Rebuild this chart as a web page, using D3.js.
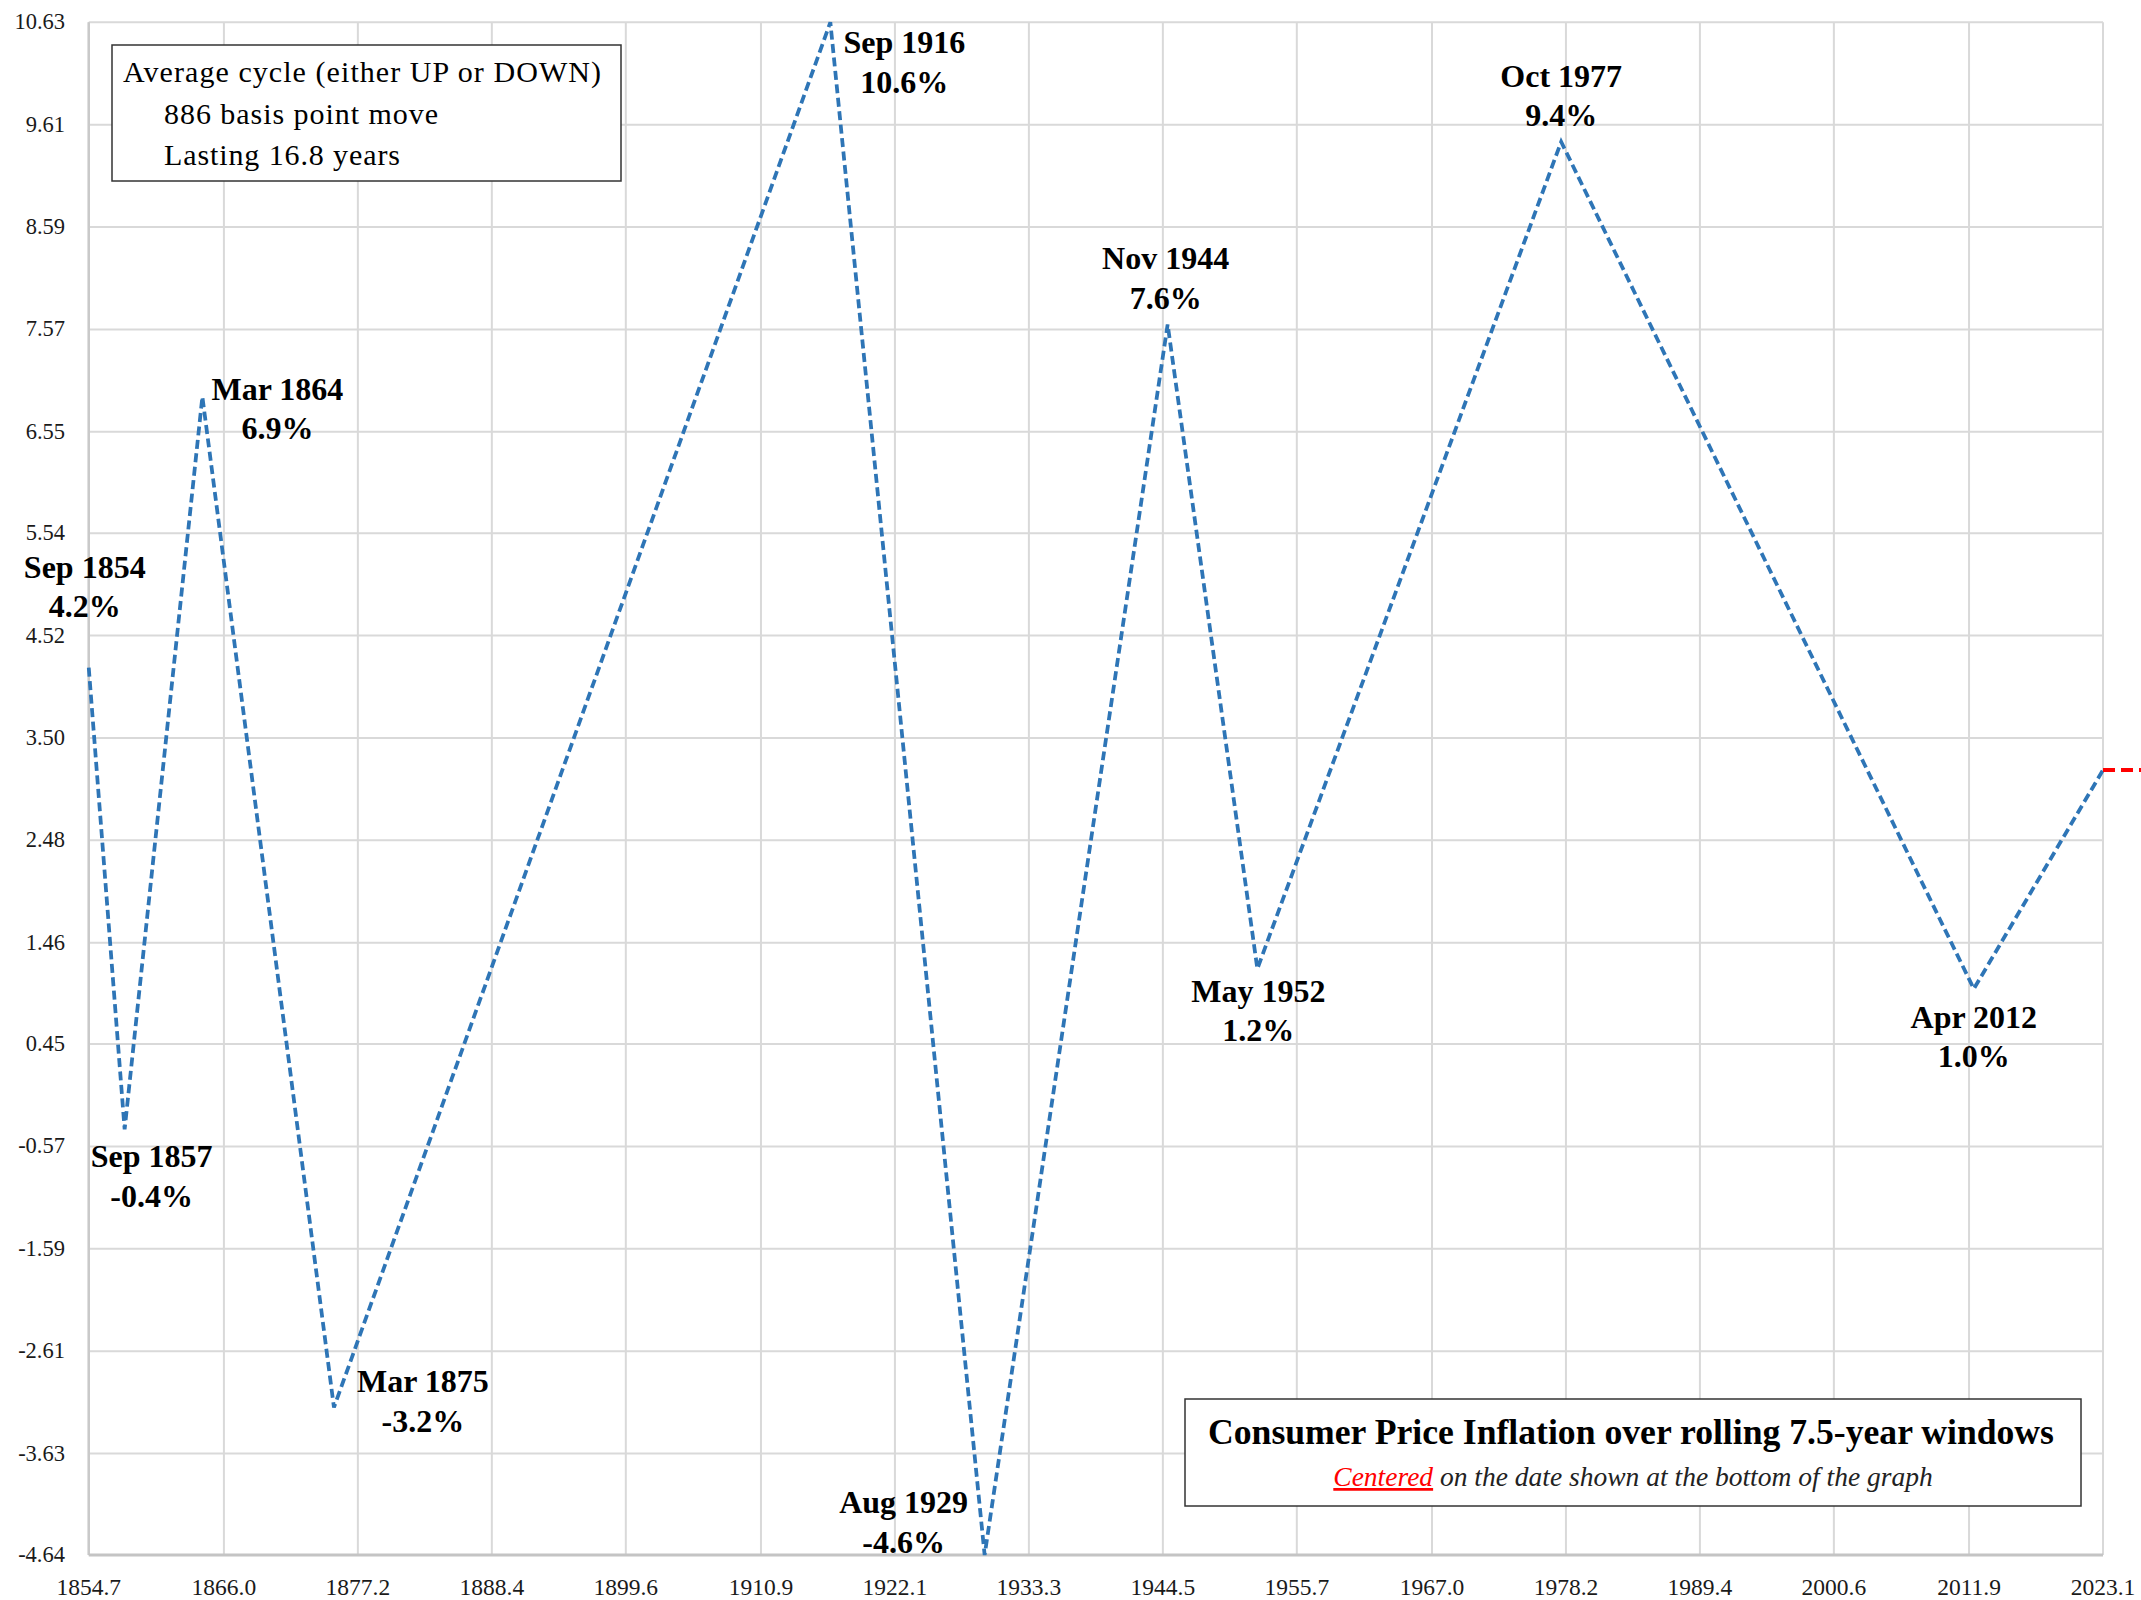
<!DOCTYPE html>
<html>
<head>
<meta charset="utf-8">
<script src="https://cdn.jsdelivr.net/npm/d3@7"></script>
<style>
  html, body { margin: 0; padding: 0; background: #ffffff; }
  svg { display: block; }
  text { font-family: "Liberation Serif", "Times New Roman", serif; }
</style>
</head>
<body>
<script>
// Axis tick labels
const xTickLabels = ["1854.7","1866.0","1877.2","1888.4","1899.6","1910.9","1922.1","1933.3",
                     "1944.5","1955.7","1967.0","1978.2","1989.4","2000.6","2011.9","2023.1"];
const yTickLabels = ["10.63","9.61","8.59","7.57","6.55","5.54","4.52","3.50",
                     "2.48","1.46","0.45","-0.57","-1.59","-2.61","-3.63","-4.64"];

// Turning points of the 7.5-year rolling CPI inflation rate
const turnDates  = ["Sep 1854","Sep 1857","Mar 1864","Mar 1875","Sep 1916","Aug 1929",
                    "Nov 1944","May 1952","Oct 1977","Apr 2012"];
const turnYears  = [1854.7, 1857.7, 1864.2, 1875.2, 1916.7, 1929.6, 1944.9, 1952.4, 1977.8, 2012.3];
const turnValues = [4.2, -0.4, 6.9, -3.17, 10.63, -4.64, 7.62, 1.2, 9.44, 1.0];

// Latest reading
const latestYear  = 2023.1;
const latestValue = 3.18;

// Average cycle summary lines
const summaryLines = ["Average cycle (either UP or DOWN)", "886 basis point move", "Lasting 16.8 years"];

// Label placement relative to each turning point (px)
const labelOffsets = [[-4,-90],[27,38],[75,3],[89,-15],[74,31],[-81,-42],[-2,-55],[1,33],[0,-55],[0,39]];

const W = 2141, H = 1600;
const plot = { left: 88.75, right: 2103, top: 22.3, bottom: 1555 };

const svg = d3.select("body").append("svg").attr("width", W).attr("height", H);

const x = d3.scaleLinear()
  .domain([+xTickLabels[0], +xTickLabels[xTickLabels.length - 1]])
  .range([plot.left, plot.right]);
const y = d3.scaleLinear()
  .domain([+yTickLabels[yTickLabels.length - 1], +yTickLabels[0]])
  .range([plot.bottom, plot.top]);

// Gridlines
const grid = svg.append("g");
grid.selectAll("line.h").data(yTickLabels).join("line")
  .attr("x1", plot.left).attr("x2", plot.right)
  .attr("y1", d => y(+d)).attr("y2", d => y(+d))
  .attr("stroke", "#d9d9d9").attr("stroke-width", 2);
grid.selectAll("line.v").data(xTickLabels).join("line")
  .attr("y1", plot.top).attr("y2", plot.bottom)
  .attr("x1", d => x(+d)).attr("x2", d => x(+d))
  .attr("stroke", "#d9d9d9").attr("stroke-width", 2);

// Axis lines
svg.append("line").attr("x1", plot.left).attr("x2", plot.left)
  .attr("y1", plot.top).attr("y2", plot.bottom)
  .attr("stroke", "#c9c9c9").attr("stroke-width", 2.5);
svg.append("line").attr("x1", plot.left).attr("x2", plot.right)
  .attr("y1", plot.bottom).attr("y2", plot.bottom)
  .attr("stroke", "#c4c4c4").attr("stroke-width", 3);

// Y tick labels
svg.append("g").selectAll("text").data(yTickLabels).join("text")
  .attr("x", 65).attr("y", d => y(+d) + 7)
  .attr("text-anchor", "end")
  .attr("font-size", 22.5).attr("fill", "#1a1a1a")
  .text(d => d);

// X tick labels
svg.append("g").selectAll("text").data(xTickLabels).join("text")
  .attr("x", d => x(+d)).attr("y", 1595)
  .attr("text-anchor", "middle")
  .attr("font-size", 23.5).attr("fill", "#1a1a1a")
  .text(d => d);

// Inflation path
const series = turnYears.map((yr, i) => ({ year: yr, value: turnValues[i] }))
  .concat([{ year: latestYear, value: latestValue }]);

svg.append("path")
  .datum(series)
  .attr("d", d3.line().x(d => x(d.year)).y(d => y(d.value)))
  .attr("fill", "none")
  .attr("stroke", "#2e75b6")
  .attr("stroke-width", 3.75)
  .attr("stroke-dasharray", "9,4.5");

// Current level carried to the right edge
svg.append("line")
  .attr("x1", x(latestYear)).attr("x2", W)
  .attr("y1", y(latestValue)).attr("y2", y(latestValue))
  .attr("stroke", "#ff0000").attr("stroke-width", 4)
  .attr("stroke-dasharray", "12,6");

// Turning point labels
const labels = svg.append("g");
turnDates.forEach((date, i) => {
  const px = x(turnYears[i]) + labelOffsets[i][0];
  const py = y(turnValues[i]) + labelOffsets[i][1];
  const t = labels.append("text")
    .attr("text-anchor", "middle")
    .attr("font-size", 32).attr("font-weight", "bold").attr("fill", "#000");
  t.append("tspan").attr("x", px).attr("y", py).text(date);
  t.append("tspan").attr("x", px).attr("y", py + 39.5).text(turnValues[i].toFixed(1) + "%");
});

// Average cycle box
const avg = svg.append("g");
avg.append("rect").attr("x", 112).attr("y", 45).attr("width", 509).attr("height", 136)
  .attr("fill", "#ffffff").attr("stroke", "#333").attr("stroke-width", 1.5);
const summaryLayout = [[123, 82, 478], [164, 124, 274], [164, 165, 236]];
summaryLines.forEach((line, i) => {
  avg.append("text")
    .attr("x", summaryLayout[i][0]).attr("y", summaryLayout[i][1])
    .attr("font-size", 30)
    .attr("textLength", summaryLayout[i][2]).attr("lengthAdjust", "spacing")
    .text(line);
});

// Title box
const tb = svg.append("g");
tb.append("rect").attr("x", 1185).attr("y", 1399).attr("width", 896).attr("height", 107)
  .attr("fill", "#ffffff").attr("stroke", "#333").attr("stroke-width", 1.5);
tb.append("text").attr("x", 1631).attr("y", 1444)
  .attr("text-anchor", "middle").attr("font-size", 36).attr("font-weight", "bold")
  .attr("textLength", 846).attr("lengthAdjust", "spacingAndGlyphs")
  .text("Consumer Price Inflation over rolling 7.5-year windows");
const sub = tb.append("text").attr("x", 1633).attr("y", 1486)
  .attr("text-anchor", "middle").attr("font-size", 27.5).attr("font-style", "italic")
  .attr("fill", "#222");
sub.append("tspan").attr("fill", "#ff0000").attr("text-decoration", "underline").text("Centered");
sub.append("tspan").text(" on the date shown at the bottom of the graph");
</script>
</body>
</html>
